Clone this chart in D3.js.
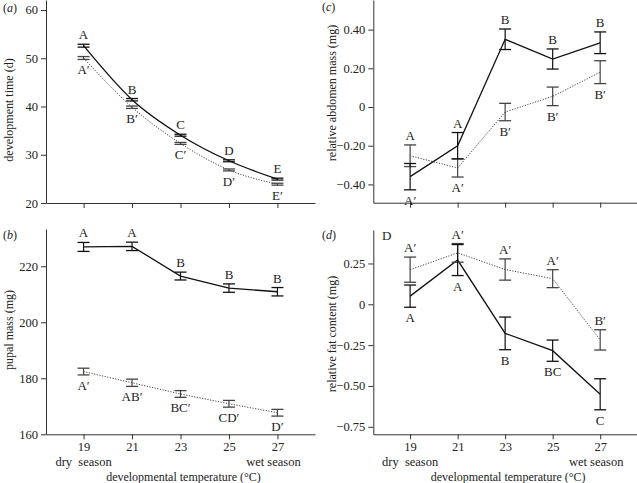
<!DOCTYPE html>
<html><head><meta charset="utf-8">
<script src="https://cdn.jsdelivr.net/npm/d3@7"></script>
<style>
body{margin:0;background:#fff;}
svg{display:block;font-family:"Liberation Serif","DejaVu Serif",serif;}
.axis path,.axis line{stroke:#333;stroke-width:1;}
.axis text{font-family:"Liberation Serif",serif;font-size:12.5px;fill:#222;}
</style></head>
<body>
<svg id="chart" width="637" height="483"></svg>
<script>
const temps = [19, 21, 23, 25, 27];

// (a) development time
const devSolid = [52.6, 41.4, 34.05, 28.75, 24.95];
const devSolidErr = [0.3, 0.25, 0.2, 0.2, 0.2];
const devDotted = [50.05, 39.85, 32.35, 26.85, 23.9];
const devDottedErr = [0.3, 0.25, 0.2, 0.2, 0.2];
const devUpper = ["A", "B", "C", "D", "E"];
const devLower = ["A′", "B′", "C′", "D′", "E′"];
const devTicks = [20, 30, 40, 50, 60];

// (b) pupal mass
const pupSolid = [226.9, 227.1, 216.5, 212.2, 210.9];
const pupSolidErr = [1.6, 1.5, 1.4, 1.5, 1.5];
const pupDotted = [182.4, 178.4, 174.4, 170.9, 167.7];
const pupDottedErr = [1.2, 1.3, 1.2, 1.2, 1.2];
const pupUpper = ["A", "A", "B", "B", "B"];
const pupLower = ["A′", "AB′", "BC′", "CD′", "D′"];
const pupTicks = [160, 180, 200, 220];

// (c) relative abdomen mass
const abdSolid = [-0.36, -0.20, 0.35, 0.248, 0.332];
const abdSolidErr = [0.068, 0.068, 0.053, 0.052, 0.056];
const abdDotted = [-0.252, -0.315, -0.026, 0.055, 0.18];
const abdDottedErr = [0.056, 0.047, 0.045, 0.048, 0.059];
const abdUpper = ["A", "A", "B", "B", "B"];
const abdLower = ["A′", "A′", "B′", "B′", "B′"];
const abdTicks = [-0.4, -0.2, 0, 0.2, 0.4];
const abdTickLabels = ["−0.40", "−0.20", "0", "0.20", "0.40"];

// (d) relative fat content
const fatSolid = [0.05, 0.271, -0.178, -0.284, -0.551];
const fatSolidErr = [0.068, 0.095, 0.1, 0.065, 0.095];
const fatDotted = [0.212, 0.315, 0.213, 0.157, -0.218];
const fatDottedErr = [0.077, 0.057, 0.065, 0.055, 0.062];
const fatUpper = ["A′", "A′", "A′", "A′", "B′"];
const fatLower = ["A", "A", "B", "BC", "C"];
const fatTicks = [-0.75, -0.5, -0.25, 0, 0.25];
const fatTickLabels = ["−0.75", "−0.50", "−0.25", "0", "0.25"];

const xTickLabels = ["19", "21", "23", "25", "27"];
const xTitle = "developmental temperature (°C)";

const svg = d3.select("#chart");
svg.append("rect").attr("width", 637).attr("height", 483).attr("fill", "#fff");

function panel(o) {
  const g = svg.append("g");
  const x = d3.scaleLinear().domain([17.45, 28.55]).range(o.xr);
  const y = d3.scaleLinear().domain(o.yd).range(o.yr);

  const ya = d3.axisLeft(y).tickValues(o.yticks).tickSize(5).tickSizeOuter(0).tickPadding(3)
    .tickFormat((d, i) => o.ylabels ? o.ylabels[i] : d3.format("d")(d));
  g.append("g").attr("class", "axis").attr("transform", `translate(${o.xr[0]},0)`).call(ya);
  const xa = d3.axisBottom(x).tickValues(temps).tickSize(5).tickSizeOuter(0).tickPadding(3)
    .tickFormat((d, i) => o.xlabels ? xTickLabels[i] : "");
  g.append("g").attr("class", "axis").attr("transform", `translate(0,${o.yr[0]})`).call(xa);

  g.append("text").attr("transform", `translate(${o.ytx},${o.yty}) rotate(-90)`)
    .attr("text-anchor", "middle").attr("font-size", 12).attr("fill", "#222").text(o.ytitle);

  const pl = g.append("text").attr("x", o.plx).attr("y", o.ply).attr("font-size", 12).attr("fill", "#222");
  pl.append("tspan").text("(");
  pl.append("tspan").attr("font-style", "italic").text(o.letter);
  pl.append("tspan").text(")");

  if (o.xlabels) {
    const base = o.yr[0];
    g.append("text").attr("x", x(19)).attr("y", base + 32).attr("text-anchor", "middle")
      .attr("font-size", 12.5).attr("fill", "#222").attr("xml:space", "preserve").text("dry  season");
    g.append("text").attr("x", x(27) - 4).attr("y", base + 32).attr("text-anchor", "middle")
      .attr("font-size", 12.5).attr("fill", "#222").text("wet season");
    g.append("text").attr("x", (o.xr[0] + o.xr[1]) / 2 + 3).attr("y", base + 46.5).attr("text-anchor", "middle")
      .attr("font-size", 12).attr("fill", "#222").text(xTitle);
  }

  const line = d3.line().x((d, i) => x(temps[i])).y(d => y(d)).curve(o.curve || d3.curveLinear);
  g.append("path").attr("d", line(o.dotted)).attr("fill", "none").attr("stroke", "#444")
    .attr("stroke-width", 1).attr("stroke-dasharray", "1.2,1.5");
  g.append("path").attr("d", line(o.solid)).attr("fill", "none").attr("stroke", "#111")
    .attr("stroke-width", 1.3);

  function bars(vals, errs, col) {
    vals.forEach((v, i) => {
      const cx = x(temps[i]), y0 = y(v - errs[i]), y1 = y(v + errs[i]);
      g.append("line").attr("x1", cx).attr("x2", cx).attr("y1", y0).attr("y2", y1)
        .attr("stroke", col).attr("stroke-width", 1.2);
      [y0, y1].forEach(yy => g.append("line").attr("x1", cx - 6).attr("x2", cx + 6)
        .attr("y1", yy).attr("y2", yy).attr("stroke", col).attr("stroke-width", 1.3));
    });
  }
  bars(o.dotted, o.dottedErr, "#444");
  bars(o.solid, o.solidErr, "#111");

  temps.forEach((t, i) => {
    const top = Math.min(y(o.solid[i] + o.solidErr[i]), y(o.dotted[i] + o.dottedErr[i]));
    const bot = Math.max(y(o.solid[i] - o.solidErr[i]), y(o.dotted[i] - o.dottedErr[i]));
    g.append("text").attr("x", x(t)).attr("y", top - 5).attr("text-anchor", "middle")
      .attr("font-size", 13).attr("fill", "#222").text(o.upper[i]);
    g.append("text").attr("x", x(t)).attr("y", bot + 15).attr("text-anchor", "middle")
      .attr("font-size", 13).attr("fill", "#222").text(o.lower[i]);
  });
  return g;
}

panel({xr: [46, 315], yd: [20, 62.07], yr: [203, 0], yticks: devTicks,
  solid: devSolid, solidErr: devSolidErr, dotted: devDotted, dottedErr: devDottedErr,
  upper: devUpper, lower: devLower, ytitle: "development time (d)", ytx: 13, yty: 110,
  letter: "a", plx: 3, ply: 12, curve: d3.curveMonotoneX, xlabels: false});

panel({xr: [46, 315], yd: [160, 233.3], yr: [434.3, 229], yticks: pupTicks,
  solid: pupSolid, solidErr: pupSolidErr, dotted: pupDotted, dottedErr: pupDottedErr,
  upper: pupUpper, lower: pupLower, ytitle: "pupal mass (mg)", ytx: 13, yty: 330,
  letter: "b", plx: 3, ply: 239, xlabels: true});

panel({xr: [373.3, 637], yd: [-0.4946, 0.553], yr: [202.7, 0], yticks: abdTicks, ylabels: abdTickLabels,
  solid: abdSolid, solidErr: abdSolidErr, dotted: abdDotted, dottedErr: abdDottedErr,
  upper: abdUpper, lower: abdLower, ytitle: "relative abdomen mass (mg)", ytx: 336, yty: 93,
  letter: "c", plx: 322, ply: 11, xlabels: false});

const pd = panel({xr: [373.3, 637], yd: [-0.796, 0.455], yr: [434.3, 230], yticks: fatTicks, ylabels: fatTickLabels,
  solid: fatSolid, solidErr: fatSolidErr, dotted: fatDotted, dottedErr: fatDottedErr,
  upper: fatUpper, lower: fatLower, ytitle: "relative fat content (mg)", ytx: 336, yty: 334,
  letter: "d", plx: 322, ply: 239, xlabels: true});
pd.append("text").attr("x", 382).attr("y", 240).attr("font-size", 13).attr("fill", "#222").text("D");
</script>
</body></html>
